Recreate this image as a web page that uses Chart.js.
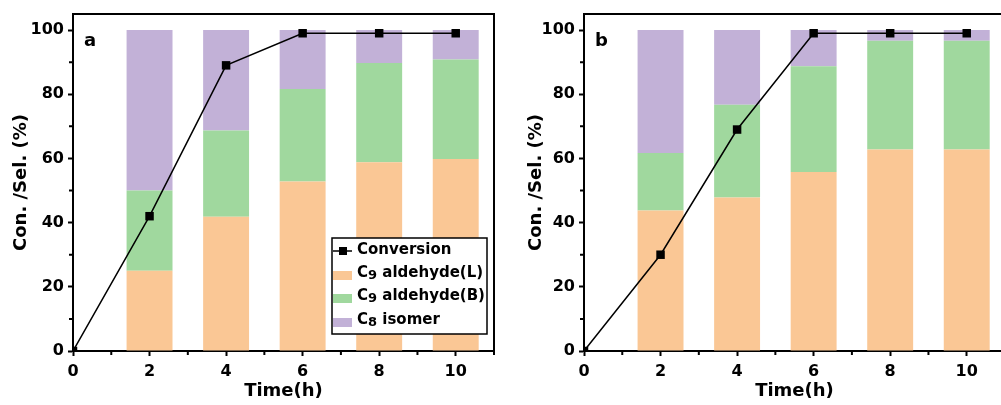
<!DOCTYPE html>
<html>
<head>
<meta charset="utf-8">
<script src="https://cdn.jsdelivr.net/npm/chart.js@4.4.1/dist/chart.umd.min.js"></script>
<style>
  html, body { margin: 0; padding: 0; background: #fff; overflow: hidden; width: 1001px; height: 405px; }
  canvas.panel { position: absolute; top: 0; }
  #chart-a { left: 0; }
  #chart-b { left: 511px; }
</style>
</head>
<body>
<canvas id="chart-a" class="panel" width="500" height="405"></canvas>
<canvas id="chart-b" class="panel" width="500" height="405"></canvas>
<script>
// x positions (h) and axis ticks
const times = [2, 4, 6, 8, 10];
const convTimes = [0, 2, 4, 6, 8, 10];
const xTicks = [0, 2, 4, 6, 8, 10];
const xMinor = [1, 3, 5, 7, 9, 11];
const yTicks = [0, 20, 40, 60, 80, 100];
const yMinor = [10, 30, 50, 70, 90];

const seriesNames = ['Conversion', 'C9 aldehyde(L)', 'C9 aldehyde(B)', 'C8 isomer'];

// panel a
const convA = [0, 42, 89, 99, 99, 99];
const linA = [25, 41.8, 52.8, 58.8, 59.8];
const branchA = [25, 26.9, 28.8, 30.9, 31];
const isoA = [50, 31.3, 18.4, 10.3, 9.2];

// panel b
const convB = [0, 30, 69, 99, 99, 99];
const linB = [43.8, 47.8, 55.8, 62.8, 62.8];
const branchB = [17.9, 28.9, 32.9, 33.9, 33.9];
const isoB = [38.3, 23.3, 11.3, 3.3, 3.3];

const COLORS = { lin: '#FAC795', branch: '#A0D89E', iso: '#C2B1D7', line: '#000' };
const FONT = '"DejaVu Sans", "Liberation Sans", Arial, sans-serif';

const xy = (xs, ys) => xs.map((x, i) => ({ x, y: ys[i] }));

// draws frame, minor ticks, panel letter and the in-plot legend
const decor = {
  id: 'decor',
  afterDraw(chart, args, opts) {
    const { ctx, chartArea: a, scales } = chart;
    ctx.save();
    ctx.strokeStyle = '#000';
    ctx.lineWidth = 2;
    ctx.beginPath();
    ctx.moveTo(a.left - 1, a.top); ctx.lineTo(a.right, a.top);
    ctx.moveTo(a.right, a.top - 1); ctx.lineTo(a.right, a.bottom + 1);
    xMinor.forEach((v) => {
      const px = scales.x.getPixelForValue(v);
      ctx.moveTo(px, a.bottom); ctx.lineTo(px, a.bottom + 4);
    });
    yMinor.forEach((v) => {
      const py = scales.y.getPixelForValue(v);
      ctx.moveTo(a.left - 4, py); ctx.lineTo(a.left, py);
    });
    ctx.stroke();

    ctx.fillStyle = '#000';
    ctx.font = `bold 18px ${FONT}`;
    ctx.textBaseline = 'middle';
    ctx.textAlign = 'left';
    ctx.fillText(opts.letter, a.left + 11, a.top + 27);

    if (opts.legend) {
      const bx = a.left + 259, by = a.top + 224, bw = 155, bh = 96;
      ctx.fillStyle = '#fff';
      ctx.fillRect(bx, by, bw, bh);
      ctx.lineWidth = 1.5;
      ctx.strokeRect(bx, by, bw, bh);
      const rows = [12, 35, 58, 82];
      chart.data.datasets.forEach((ds, i) => {
        const cy = by + rows[i];
        if (ds.type === 'line') {
          ctx.strokeStyle = '#000';
          ctx.lineWidth = 1.5;
          ctx.beginPath(); ctx.moveTo(bx + 1, cy + 1); ctx.lineTo(bx + 20, cy + 1); ctx.stroke();
          ctx.fillStyle = '#000';
          ctx.fillRect(bx + 7, cy - 3, 8, 8);
        } else {
          ctx.fillStyle = ds.backgroundColor;
          ctx.fillRect(bx + 1, cy - 2, 19, 9);
        }
        ctx.fillStyle = '#000';
        let tx = bx + 25;
        const m = /^C(\d)(.*)$/.exec(ds.label);
        if (m) {
          ctx.font = `bold 15px ${FONT}`;
          ctx.fillText('C', tx, cy);
          tx += ctx.measureText('C').width;
          ctx.font = `bold 13px ${FONT}`;
          ctx.fillText(m[1], tx, cy + 3);
          tx += ctx.measureText(m[1]).width;
          ctx.font = `bold 15px ${FONT}`;
          ctx.fillText(m[2], tx, cy);
        } else {
          ctx.font = `bold 15px ${FONT}`;
          ctx.fillText(ds.label, tx, cy);
        }
      });
    }
    ctx.restore();
  }
};

function makeChart(id, conv, lin, branch, iso, opts) {
  const bar = (label, data, color) => ({
    type: 'bar', label, data: xy(times, data), backgroundColor: color,
    stack: 'sel', order: 1, categoryPercentage: 1, barPercentage: 0.6, borderWidth: 0
  });
  return new Chart(document.getElementById(id), {
    type: 'bar',
    data: {
      datasets: [
        { type: 'line', label: seriesNames[0], data: xy(convTimes, conv), borderColor: COLORS.line,
          backgroundColor: COLORS.line, borderWidth: 1.5, pointStyle: 'rect', pointRadius: 6,
          pointBorderWidth: 0, order: 0, tension: 0, clip: 0 },
        bar(seriesNames[1], lin, COLORS.lin),
        bar(seriesNames[2], branch, COLORS.branch),
        bar(seriesNames[3], iso, COLORS.iso),
      ]
    },
    options: {
      responsive: false,
      animation: false,
      devicePixelRatio: 1,
      layout: { padding: { top: 14, right: 1, left: 0, bottom: 0 } },
      plugins: { legend: { display: false }, tooltip: { enabled: false }, decor: opts },
      scales: {
        x: {
          type: 'linear', min: 0, max: 11, offset: false,
          afterBuildTicks: (s) => { s.ticks = xTicks.map((v) => ({ value: v })); },
          afterFit: (s) => { s.height = 54; },
          grid: { offset: false, drawOnChartArea: false, tickLength: 5, tickWidth: 2, tickColor: '#000' },
          border: { color: '#000', width: 2 },
          ticks: { color: '#000', font: { family: FONT, size: 16, weight: 'bold' }, padding: 6, maxRotation: 0 },
          title: { display: true, text: 'Time(h)', color: '#000', font: { family: FONT, size: 18, weight: 'bold' }, padding: { top: 0, bottom: 3 } }
        },
        y: {
          min: 0, max: 105,
          afterBuildTicks: (s) => { s.ticks = yTicks.map((v) => ({ value: v })); },
          afterFit: (s) => { s.width = 73; },
          grid: { drawOnChartArea: false, tickLength: 5, tickWidth: 2, tickColor: '#000' },
          border: { color: '#000', width: 2 },
          ticks: { color: '#000', font: { family: FONT, size: 16, weight: 'bold' }, padding: 4 },
          title: { display: true, text: 'Con. /Sel. (%)', color: '#000', font: { family: FONT, size: 18, weight: 'bold' }, padding: { top: opts.titlePad, bottom: 0 } }
        }
      }
    },
    plugins: [decor]
  });
}

makeChart('chart-a', convA, linA, branchA, isoA, { letter: 'a', legend: true, titlePad: 11 });
makeChart('chart-b', convB, linB, branchB, isoB, { letter: 'b', legend: false, titlePad: 15 });
</script>
</body>
</html>
